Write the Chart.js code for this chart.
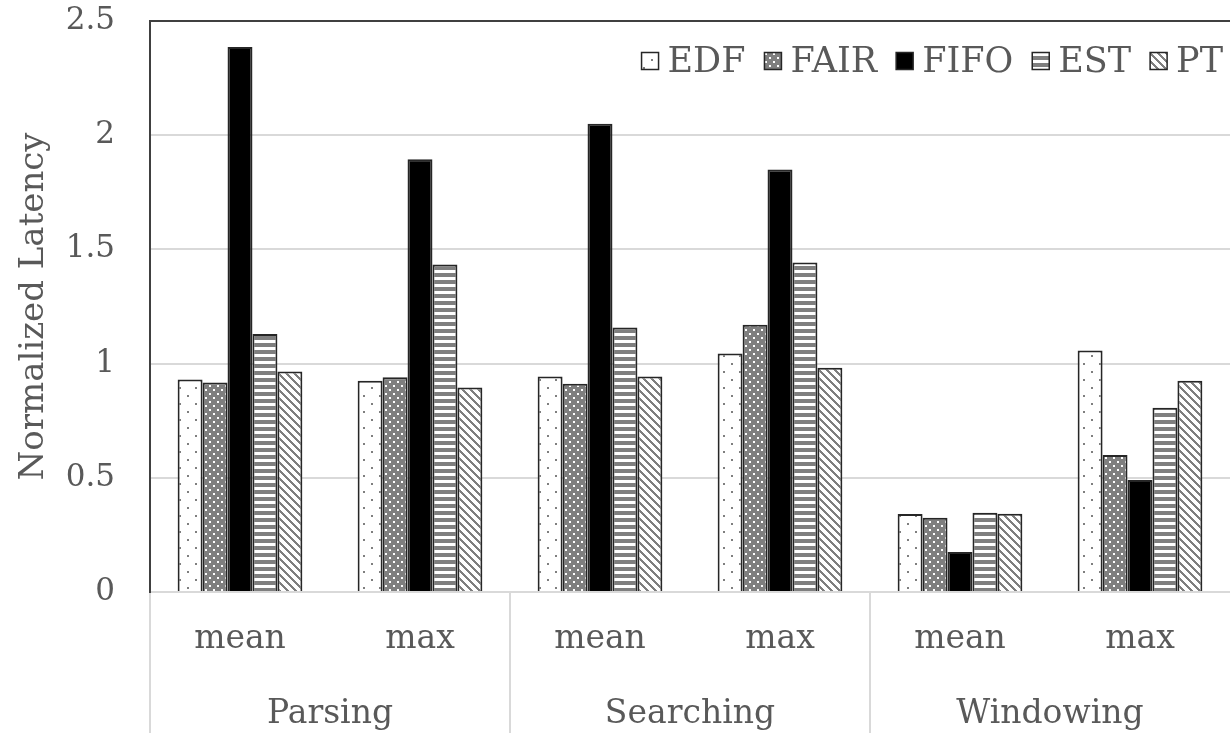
<!DOCTYPE html>
<html>
<head>
<meta charset="utf-8">
<script src="https://cdn.jsdelivr.net/npm/chart.js@4"></script>
<style>
  html, body { margin: 0; padding: 0; background: #fff; overflow: hidden; }
  canvas { display: block; }
</style>
</head>
<body>
<canvas id="latencyChart" width="1230" height="733"></canvas>
<script>
// data
const categories = ['mean', 'max', 'mean', 'max', 'mean', 'max'];
const groups = ['Parsing', 'Searching', 'Windowing'];
const seriesNames = ['EDF', 'FAIR', 'FIFO', 'EST', 'PT'];
const edf  = [0.93, 0.925, 0.943, 1.044, 0.342, 1.057];
const fair = [0.917, 0.94, 0.912, 1.17, 0.325, 0.60];
const fifo = [2.386, 1.895, 2.05, 1.85, 0.175, 0.49];
const est  = [1.13, 1.434, 1.158, 1.443, 0.347, 0.807];
const pt   = [0.965, 0.895, 0.943, 0.982, 0.343, 0.925];
const yTicks = [0, 0.5, 1, 1.5, 2, 2.5];

const textColor = '#595959';
const gray = '#7f7f7f';
const lightGrid = '#d9d9d9';
const dark = '#404040';
const fontFamily = '"DejaVu Serif", serif';

// pixel patterns for the bars
function makePattern(w, h, bg, fg, isFg) {
  const c = document.createElement('canvas');
  c.width = w; c.height = h;
  const g = c.getContext('2d');
  g.fillStyle = bg;
  g.fillRect(0, 0, w, h);
  g.fillStyle = fg;
  for (let y = 0; y < h; y++) {
    for (let x = 0; x < w; x++) {
      if (isFg(x, y)) g.fillRect(x, y, 1, 1);
    }
  }
  return g.createPattern(c, 'repeat');
}

const dotsSparse = makePattern(16, 16, '#ffffff', gray, (x, y) =>
  (x >= 3 && x < 5 && y >= 3 && y < 5) || (x >= 11 && x < 13 && y >= 11 && y < 13));
const dotsDense = makePattern(8, 8, gray, '#ffffff', (x, y) =>
  (x >= 1 && x < 3 && y >= 1 && y < 3) || (x >= 5 && x < 7 && y >= 5 && y < 7));
const hStripes = makePattern(8, 7, '#ffffff', gray, (x, y) => y < 4);
const dStripes = makePattern(8, 8, '#ffffff', gray, (x, y) => (((x - y) % 8) + 8) % 8 < 3);

const fills = [dotsSparse, dotsDense, '#000000', hStripes, dStripes];
const values = [edf, fair, fifo, est, pt];

const datasets = seriesNames.map((name, i) => ({
  label: name,
  data: values[i],
  backgroundColor: fills[i],
  borderColor: '#262626',
  borderWidth: 2,
  barPercentage: 1,
  categoryPercentage: 0.693
}));

// legend drawn inside the plot, top right
const insideLegend = {
  id: 'insideLegend',
  afterDraw(chart) {
    const ctx = chart.ctx;
    const area = chart.chartArea;
    const box = 17, gapText = 9, gapItem = 19;
    ctx.save();
    ctx.font = '35px ' + fontFamily;
    ctx.textBaseline = 'middle';
    ctx.textAlign = 'left';
    const items = chart.data.datasets.map(ds => ({
      ds, w: ctx.measureText(ds.label).width
    }));
    let total = 0;
    items.forEach((it, i) => { total += box + gapText + it.w + (i ? gapItem : 0); });
    let x = area.right - 7 - total;
    const yc = area.top + 40;
    items.forEach((it, i) => {
      if (i) x += gapItem;
      ctx.fillStyle = it.ds.backgroundColor;
      ctx.fillRect(x, yc - box / 2, box, box);
      ctx.strokeStyle = '#262626';
      ctx.lineWidth = 1.5;
      ctx.strokeRect(x, yc - box / 2, box, box);
      x += box + gapText;
      ctx.fillStyle = textColor;
      ctx.fillText(it.ds.label, x, yc + 2);
      x += it.w;
    });
    ctx.restore();
  }
};

const ctx = document.getElementById('latencyChart').getContext('2d');
const latencyChart = new Chart(ctx, {
  type: 'bar',
  data: { labels: categories, datasets: datasets },
  plugins: [insideLegend],
  options: {
    responsive: false,
    animation: false,
    layout: { padding: { top: 21, left: 0, right: 0, bottom: 0 } },
    plugins: { legend: { display: false }, tooltip: { enabled: false } },
    scales: {
      x: {
        type: 'category',
        labels: categories,
        offset: true,
        grid: {
          offset: true,
          drawOnChartArea: false,
          tickLength: 90,
          lineWidth: 2,
          color: c => (c.index !== undefined && c.index % 2 === 0) ? lightGrid : 'rgba(0,0,0,0)'
        },
        border: { color: lightGrid, width: 2 },
        ticks: { font: { family: fontFamily, size: 33 }, color: textColor, padding: -62, maxRotation: 0, autoSkip: false },
        afterFit: s => { s.height = 90; }
      },
      x2: {
        type: 'category',
        labels: groups,
        position: 'bottom',
        offset: true,
        grid: {
          offset: true,
          drawOnChartArea: false,
          tickLength: 51,
          lineWidth: 2,
          color: c => c.index !== undefined ? lightGrid : 'rgba(0,0,0,0)'
        },
        border: { display: false },
        ticks: { font: { family: fontFamily, size: 33 }, color: textColor, padding: -38, maxRotation: 0, autoSkip: false },
        afterFit: s => { s.height = 51; }
      },
      y: {
        min: 0,
        max: 2.5,
        afterBuildTicks: s => { s.ticks = yTicks.map(v => ({ value: v })); },
        ticks: {
          font: { family: fontFamily, size: 31 },
          color: textColor,
          padding: 35,
          callback: v => String(v)
        },
        grid: {
          drawTicks: false,
          lineWidth: 2,
          color: c => (c.tick && c.tick.value === 2.5) ? dark : lightGrid
        },
        border: { color: dark, width: 2 },
        title: {
          display: true,
          text: 'Normalized Latency',
          font: { family: fontFamily, size: 34 },
          color: textColor,
          padding: { top: 14, bottom: 0 }
        },
        afterFit: s => { s.width = 150; s.paddingTop = 0; s.paddingBottom = 0; }
      }
    }
  }
});
</script>
</body>
</html>
